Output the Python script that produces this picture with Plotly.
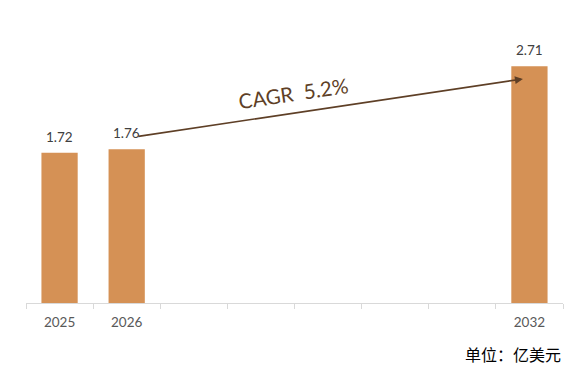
import plotly.graph_objects as go

categories = ["2025", "2026", "2027", "2028", "2029", "2030", "2031", "2032"]
tick_labels = ["2025", "2026", "", "", "", "", "", "2032"]
bar_years = ["2025", "2026", "2032"]
bar_values = [1.72, 1.76, 2.71]
cagr_text = "CAGR  5.2%"
unit_text = "单位：亿美元"

BAR = "#D59155"
BROWN = "#5E3F26"
FONT = "Lato, 'Noto Sans', sans-serif"

fig = go.Figure()
fig.add_trace(go.Bar(
    x=bar_years, y=bar_values,
    marker=dict(color=BAR, line=dict(width=0)),
    width=0.54,
))

for yr, v in zip(bar_years, bar_values):
    fig.add_annotation(
        x=categories.index(yr), y=v, xref="x", yref="y", yanchor="bottom",
        text=f"{v:.2f}", showarrow=False, yshift=6,
        font=dict(size=13.5, color="#404040", family=FONT),
    )

# CAGR arrow from 2026 to 2032
fig.add_annotation(
    x=6.903, y=2.566, xref="x", yref="y",
    ax=1.151, ay=1.905, axref="x", ayref="y",
    text="", showarrow=True,
    arrowhead=2, arrowsize=1, arrowwidth=1.6, arrowcolor=BROWN,
)
fig.add_annotation(
    x=3.49, y=2.41, xref="x", yref="y",
    text=cagr_text, showarrow=False, textangle=-8.5,
    font=dict(size=20.5, color=BROWN, family=FONT),
)
fig.add_annotation(
    x=1, y=-0.1935, xref="paper", yref="paper",
    xanchor="right", yanchor="middle",
    text=unit_text, showarrow=False,
    font=dict(size=16, color="#000000", family="'Noto Sans CJK SC', sans-serif"),
)

fig.update_layout(
    width=575, height=368,
    margin=dict(l=18, r=20, t=33, b=73),
    paper_bgcolor="white", plot_bgcolor="white",
    showlegend=False,
    font=dict(family=FONT),
)
fig.update_xaxes(
    type="category",
    categoryorder="array", categoryarray=categories,
    range=[-0.5, 7.5],
    tickmode="array", tickvals=categories, ticktext=tick_labels,
    tickson="boundaries",
    ticks="outside", ticklen=5, tickcolor="#D9D9D9", tickwidth=1,
    ticklabelstandoff=7,
    showline=True, linecolor="#D9D9D9", linewidth=1,
    showgrid=False, zeroline=False,
    tickfont=dict(size=13.5, color="#595959", family=FONT),
)
fig.update_yaxes(
    range=[0, 3.0], visible=False, showgrid=False, zeroline=False,
)

fig.write_html("out.html")
